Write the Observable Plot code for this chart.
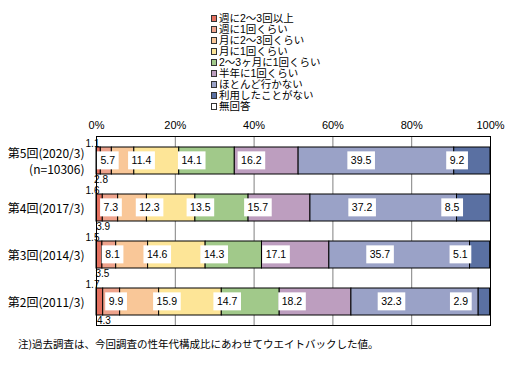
<!DOCTYPE html>
<html>
<head>
<meta charset="utf-8">
<script src="https://cdn.jsdelivr.net/npm/d3@7"></script>
<script src="https://cdn.jsdelivr.net/npm/@observablehq/plot@0.6"></script>
<style>
  html, body { margin: 0; padding: 0; background: #fff; }
  body { width: 516px; height: 366px; overflow: hidden; font-family: "Noto Sans CJK JP", sans-serif; }
  #legend { height: 112px; box-sizing: border-box; padding-top: 13px; padding-left: 211px; font-family: "Liberation Sans", "Noto Sans CJK JP", sans-serif; font-size: 10.5px; line-height: 11px; color: #000; }
  #legend .item { height: 11px; line-height: 11px; white-space: nowrap; display: flex; align-items: center; overflow: visible; }
  #legend .item span { line-height: 11px; }
  #legend .sw { display: inline-block; width: 4px; height: 5px; border: 1px solid #333; margin-right: 2px; }
  #chart svg { display: block; }
  #note { margin-top: 7px; padding-left: 18px; font-size: 10.5px; line-height: 14px; color: #000; white-space: nowrap; }
</style>
</head>
<body>
<div id="legend"></div>
<div id="chart"></div>
<div id="note">注)過去調査は、今回調査の性年代構成比にあわせてウエイトバックした値。</div>
<script>
// ---- data ----
const rounds = ["第5回(2020/3)", "第4回(2017/3)", "第3回(2014/3)", "第2回(2011/3)"];
const roundLabels = ["第5回(2020/3)\n(n=10306)", "第4回(2017/3)", "第3回(2014/3)", "第2回(2011/3)"];
const categories = ["週に2～3回以上", "週に1回くらい", "月に2～3回くらい", "月に1回くらい", "2～3ヶ月に1回くらい", "半年に1回くらい", "ほとんど行かない", "利用したことがない", "無回答"];
const colors = ["#E4705F", "#EEA38C", "#F9C798", "#FDE597", "#A1C98A", "#BD9EBF", "#9AA2C7", "#5A70A2", "#FFFFFF"];
const weekly2to3 = [1.1, 1.6, 1.5, 1.7];
const weekly1 = [2.8, 3.9, 3.5, 4.3];
const monthly2to3 = [5.7, 7.3, 8.1, 9.9];
const monthly1 = [11.4, 12.3, 14.6, 15.9];
const every2to3months = [14.1, 13.5, 14.3, 14.7];
const halfYear = [16.2, 15.7, 17.1, 18.2];
const rarely = [39.5, 37.2, 35.7, 32.3];
const never = [9.2, 8.5, 5.1, 2.9];
const xTicks = [0, 20, 40, 60, 80, 100];
const gridTicks = [20, 40, 60, 80];

const series = [weekly2to3, weekly1, monthly2to3, monthly1, every2to3months, halfYear, rarely, never];
const data = [];
series.forEach((vals, ci) => {
  vals.forEach((v, ri) => data.push({round: rounds[ri], cat: categories[ci], ci, value: v}));
});
const order = categories;

// ---- legend ----
const leg = document.getElementById("legend");
categories.forEach((c, i) => {
  const d = document.createElement("div");
  d.className = "item";
  d.innerHTML = `<span class="sw" style="background:${colors[i]}"></span><span>${c}</span>`;
  leg.appendChild(d);
});

// ---- chart ----
const valueFont = "'Liberation Sans', Arial, sans-serif";
const chart = Plot.plot({
  width: 516,
  height: 218,
  marginLeft: 96,
  marginRight: 26,
  marginTop: 24,
  marginBottom: 5,
  style: {fontFamily: "'Noto Sans CJK JP', sans-serif", background: "#fff", overflow: "visible"},
  x: {domain: [0, 100], label: null},
  y: {domain: rounds, paddingInner: 0.434, paddingOuter: 0.217, label: null, axis: null},
  color: {domain: categories, range: colors},
  marks: [
    Plot.ruleX(gridTicks, {stroke: "#808080", strokeWidth: 1}),
    Plot.barX(data, {x: "value", y: "round", fill: "cat", order, stroke: "#000", strokeWidth: 1}),
    Plot.frame({stroke: "#000", strokeWidth: 1}),
    Plot.axisX(xTicks, {anchor: "top", tickSize: 0, tickPadding: 8, tickFormat: d => d + "%", fontSize: 11, label: null, fontFamily: valueFont}),
    // y labels
    Plot.text(rounds, {y: d => d, text: (d, i) => roundLabels[i], frameAnchor: "left", dx: -12, textAnchor: "end", fontSize: 12, lineHeight: 1.28}),
    // big value labels (white boxes added after render)
    Plot.text(data.filter(d => d.ci >= 2), Plot.stackX({x: "value", y: "round", z: "cat", order, text: d => d.value.toFixed(1), fontSize: 10.5, fontFamily: valueFont, fill: "#000", ariaDescription: "value-labels"})),
    // smallest category: above-left of the bar
    Plot.text(data, Plot.stackX1({filter: d => d.ci === 0, x: "value", y: "round", z: "cat", order, text: d => d.value.toFixed(1), dx: -4, dy: -17, fontSize: 10, fontFamily: valueFont, fill: "#000"})),
    // second category: below the bar
    Plot.text(data, Plot.stackX({filter: d => d.ci === 1, x: "value", y: "round", z: "cat", order, text: d => d.value.toFixed(1), dx: -1, dy: 18.5, fontSize: 10, fontFamily: valueFont, fill: "#000"}))
  ]
});
document.getElementById("chart").appendChild(chart);

// white boxes behind value labels
const svg = d3.select(chart);
let labelTexts = svg.selectAll('g[aria-description="value-labels"] text');
if (labelTexts.empty()) {
  const groups = svg.selectAll('g[aria-label="text"]').nodes();
  labelTexts = d3.select(groups[1]).selectAll("text");
}
labelTexts.each(function() {
  const b = this.getBBox();
  const w = b.width + 7, h = 18;
  const cx = b.x + b.width / 2, cy = b.y + b.height / 2;
  const r = document.createElementNS("http://www.w3.org/2000/svg", "rect");
  r.setAttribute("x", cx - w / 2);
  r.setAttribute("y", cy - h / 2);
  r.setAttribute("width", w);
  r.setAttribute("height", h);
  r.setAttribute("fill", "#fff");
  r.setAttribute("stroke", "none");
  const t = this.getAttribute("transform");
  if (t) r.setAttribute("transform", t);
  this.parentNode.insertBefore(r, this);
});
</script>
</body>
</html>
